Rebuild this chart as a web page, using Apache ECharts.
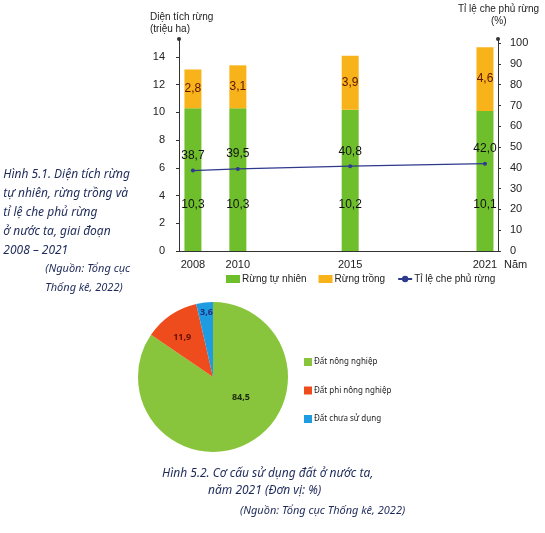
<!DOCTYPE html>
<html><head><meta charset="utf-8">
<script src="https://cdn.jsdelivr.net/npm/echarts@6/dist/echarts.min.js"></script>
<style>html,body{margin:0;padding:0;background:#fff}#c{width:545px;height:533px}</style>
</head><body><div id="c"></div>
<script>
var years = [2008, 2010, 2015, 2021];
var naturalForest = [10.3, 10.3, 10.2, 10.1];
var plantedForest = [2.8, 3.1, 3.9, 4.6];
var coverRate = [38.7, 39.5, 40.8, 42.0];
var leftTicks = [0, 2, 4, 6, 8, 10, 12, 14];
var rightTicks = [0, 10, 20, 30, 40, 50, 60, 70, 80, 90, 100];
var landNames = ['Đất nông nghiệp', 'Đất phi nông nghiệp', 'Đất chưa sử dụng'];
var landShares = [84.5, 11.9, 3.6];

var fmt = function (v) { return String(v.toFixed(1)).replace('.', ','); };
var pieColors = ['#88c53c', '#ef4c1e', '#1f9be2'];
var pieLabelColors = ['#1d2a10', '#6a1000', '#1d2f80'];
var pieOffsets = [[9, -15], [-8, -6], [-2, -24]];
var capFont = '"Noto Sans", sans-serif';
var axFont = '"Liberation Sans", Arial, sans-serif';

var chart = echarts.init(document.getElementById('c'), null, {renderer: 'canvas'});
chart.setOption({
  animation: false,
  grid: {left: 179, right: 47, top: 39, bottom: 282, containLabel: false},
  xAxis: {
    type: 'value', min: 2007.38, max: 2021.58,
    axisLine: {show: true, lineStyle: {color: '#333', width: 1}},
    axisTick: {show: false},
    splitLine: {show: false},
    axisLabel: {customValues: years, color: '#222', fontSize: 11, fontFamily: axFont, margin: 8,
      formatter: function (v) { return String(v); }}
  },
  yAxis: [{
    type: 'value', min: 0, max: 15.3, interval: 2,
    axisLine: {show: true, lineStyle: {color: '#333'}, symbol: ['none', 'circle'], symbolSize: [4, 4]},
    axisTick: {show: true, length: 3, customValues: leftTicks, lineStyle: {color: '#333'}},
    splitLine: {show: false},
    axisLabel: {customValues: leftTicks, color: '#222', fontSize: 11, fontFamily: axFont, margin: 14}
  }, {
    type: 'value', min: 0, max: 102, interval: 10, position: 'right',
    axisLine: {show: true, lineStyle: {color: '#333'}, symbol: ['none', 'circle'], symbolSize: [4, 4]},
    axisTick: {show: true, length: 3, customValues: rightTicks, lineStyle: {color: '#333'}},
    splitLine: {show: false},
    axisLabel: {customValues: rightTicks, color: '#222', fontSize: 11, fontFamily: axFont, margin: 12}
  }],
  legend: [{
    left: 221, top: 269, itemWidth: 14, itemHeight: 8, itemGap: 12,
    textStyle: {fontSize: 10, color: '#222', fontFamily: axFont, padding: [0, 0, 0, -3]},
    data: [{name: 'Rừng tự nhiên', icon: 'rect'}, {name: 'Rừng trồng', icon: 'rect'}, {name: 'Tỉ lệ che phủ rừng'}]
  }, {
    orient: 'vertical', left: 299, top: 353, itemWidth: 8, itemHeight: 8, itemGap: 20.5,
    textStyle: {fontSize: 8, color: '#222', fontFamily: capFont, padding: [0, 0, 0, -3]},
    data: landNames.map(function (n) { return {name: n, icon: 'rect'}; })
  }],
  series: [{
    name: 'Rừng tự nhiên', type: 'bar', stack: 'a', barWidth: 17,
    itemStyle: {color: '#6fbe2c'},
    encode: {x: 1, y: 0},
    data: years.map(function (y, i) { return [naturalForest[i], y]; }),
    label: {show: true, position: 'insideBottom', distance: 40, color: '#111', fontSize: 12, fontFamily: axFont,
      formatter: function (p) { return fmt(p.value[0]); }}
  }, {
    name: 'Rừng trồng', type: 'bar', stack: 'a', barWidth: 17,
    itemStyle: {color: '#f8b31a'},
    encode: {x: 1, y: 0},
    data: years.map(function (y, i) { return [plantedForest[i], y]; }),
    label: {show: true, position: 'inside', color: '#5a1400', fontSize: 12, fontFamily: axFont,
      formatter: function (p) { return fmt(p.value[0]); }}
  }, {
    name: 'Tỉ lệ che phủ rừng', type: 'line', yAxisIndex: 1,
    symbol: 'circle', symbolSize: 4,
    lineStyle: {color: '#2e3a8c', width: 1.2}, itemStyle: {color: '#2e3a8c'},
    data: years.map(function (y, i) { return [y, coverRate[i]]; }),
    label: {show: true, position: 'top', distance: 7, color: '#111', fontSize: 12, fontFamily: axFont,
      formatter: function (p) { return fmt(p.value[1]); }}
  }, {
    type: 'pie', center: [213, 377], radius: 75, startAngle: 90, clockwise: true,
    label: {show: true, position: 'inside', fontSize: 9, fontFamily: capFont, fontWeight: 'bold'},
    labelLine: {show: false},
    emphasis: {disabled: true},
    data: landNames.map(function (n, i) {
      return {name: n, value: landShares[i], itemStyle: {color: pieColors[i]},
        label: {color: pieLabelColors[i], offset: pieOffsets[i], formatter: fmt(landShares[i])}};
    })
  }],
  graphic: [
    {type: 'text', left: 150, top: 11, style: {text: 'Diện tích rừng\n(triệu ha)', fontSize: 10, lineHeight: 12, fontFamily: axFont, fill: '#222', align: 'center'}},
    {type: 'text', left: 458, top: 4, style: {text: 'Tỉ lệ che phủ rừng', fontSize: 10, fontFamily: axFont, fill: '#222'}},
    {type: 'text', left: 491, top: 16, style: {text: '(%)', fontSize: 10, fontFamily: axFont, fill: '#222'}},
    {type: 'text', left: 504, top: 259, style: {text: 'Năm', fontSize: 11, fontFamily: axFont, fill: '#222'}},
    {type: 'text', right: 415, top: 165, style: {text: 'Hình 5.1. Diện tích rừng\ntự nhiên, rừng trồng và\ntỉ lệ che phủ rừng\nở nước ta, giai đoạn\n2008 – 2021', fontSize: 12, lineHeight: 19, fontStyle: 'italic', fontFamily: capFont, fill: '#1e2a5a', align: 'right'}},
    {type: 'text', right: 415, top: 259, style: {text: '(Nguồn: Tổng cục\nThống kê, 2022)', fontSize: 11, lineHeight: 19, fontStyle: 'italic', fontFamily: capFont, fill: '#1e2a5a', align: 'right'}},
    {type: 'text', left: 162, top: 468, style: {text: 'Hình 5.2. Cơ cấu sử dụng đất ở nước ta,', fontSize: 12, fontStyle: 'italic', fontFamily: capFont, fill: '#1e2a5a'}},
    {type: 'text', left: 208, top: 485, style: {text: 'năm 2021 (Đơn vị: %)', fontSize: 12, fontStyle: 'italic', fontFamily: capFont, fill: '#1e2a5a'}},
    {type: 'text', left: 240, top: 505, style: {text: '(Nguồn: Tổng cục Thống kê, 2022)', fontSize: 11, fontStyle: 'italic', fontFamily: capFont, fill: '#1e2a5a'}}
  ]
});
</script></body></html>
